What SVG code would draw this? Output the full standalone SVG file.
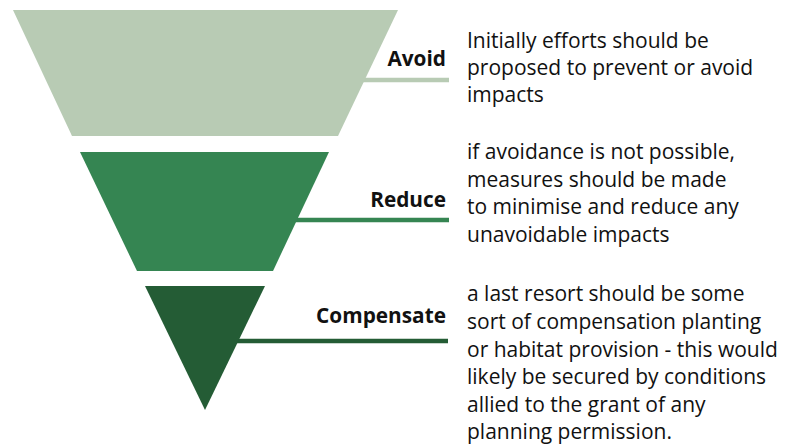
<svg xmlns="http://www.w3.org/2000/svg" width="789" height="444" viewBox="0 0 789 444">
<style>
.lbl{font-family:"Open Sans","Noto Sans",sans-serif;font-weight:bold;font-size:20.8px;fill:#111;text-anchor:end}
.desc{font-family:"Open Sans","Noto Sans",sans-serif;font-size:21px;fill:#111}
</style>
<rect width="789" height="444" fill="#fff"/>
<g id="connectors">
<line x1="360" y1="80" x2="449" y2="80" stroke="#b8cbb4" stroke-width="4.5"/>
<line x1="290" y1="220" x2="449" y2="220" stroke="#358552" stroke-width="4.5"/>
<line x1="235" y1="341" x2="448" y2="341" stroke="#245c35" stroke-width="4.5"/>
</g>
<g id="avoid">
<polygon points="13,10 398,10 338,136 72,136" fill="#b8cbb4"/>
<text class="lbl" x="446" y="66">Avoid</text>
<text class="desc" x="467" y="48">Initially efforts should be</text>
<text class="desc" x="467" y="75">proposed to prevent or avoid</text>
<text class="desc" x="467" y="102">impacts</text>
</g>
<g id="reduce">
<polygon points="80,152 329,152 273,271 137,271" fill="#358552"/>
<text class="lbl" x="446" y="207">Reduce</text>
<text class="desc" x="467" y="159">if avoidance is not possible,</text>
<text class="desc" x="467" y="187">measures should be made</text>
<text class="desc" x="467" y="214">to minimise and reduce any</text>
<text class="desc" x="467" y="242">unavoidable impacts</text>
</g>
<g id="compensate">
<polygon points="145,286 265,286 205,410" fill="#245c35"/>
<text class="lbl" x="446" y="323">Compensate</text>
<text class="desc" x="467" y="301">a last resort should be some</text>
<text class="desc" x="467" y="329">sort of compensation planting</text>
<text class="desc" x="467" y="357">or habitat provision - this would</text>
<text class="desc" x="467" y="384">likely be secured by conditions</text>
<text class="desc" x="467" y="412">allied to the grant of any</text>
<text class="desc" x="467" y="439">planning permission.</text>
</g>
</svg>
